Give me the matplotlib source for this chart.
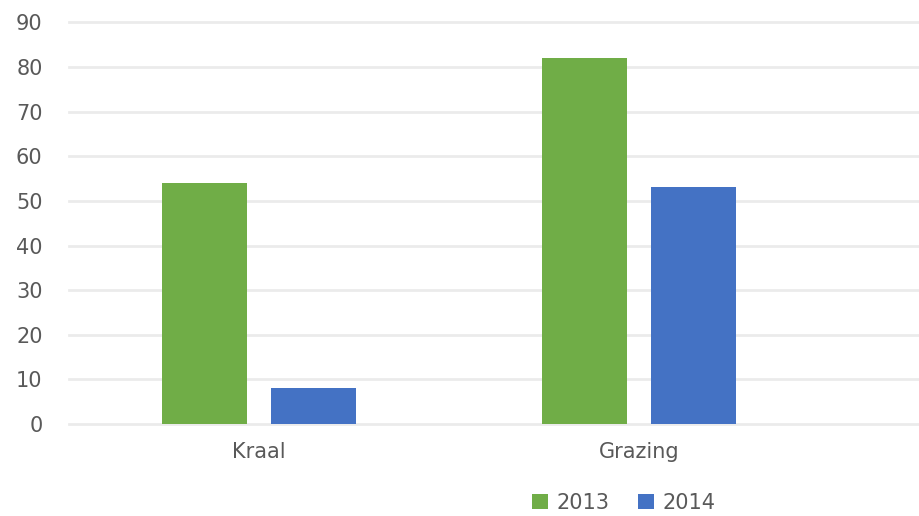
import numpy as np
import matplotlib.pyplot as plt

plt.rcParams["font.family"] = ["DejaVu Sans"]

# data
categories = ['Kraal', 'Grazing']
years = ['2013', '2014']
values_2013 = [54, 82]
values_2014 = [8, 53]
yticks = [0, 10, 20, 30, 40, 50, 60, 70, 80, 90]

green = '#70AD47'
blue = '#4472C4'
txt = '#595959'

fig = plt.figure(figsize=(9.2, 5.16), dpi=100)
ax = fig.add_axes([0.075, 0.178, 0.925, 0.779])

x = np.arange(len(categories))
w = 0.224
off = 0.143
ax.bar(x - off, values_2013, w, color=green, label=years[0], zorder=3)
ax.bar(x + off, values_2014, w, color=blue, label=years[1], zorder=3)

ax.set_xlim(-0.5, 1.74)
ax.set_ylim(0, 90)
ax.set_yticks(yticks)
ax.yaxis.grid(True, color='#EBEBEB', linewidth=2, zorder=0)
for gl in ax.get_ygridlines():
    gl.set_clip_on(False)
ax.set_xticks(x)
ax.set_xticklabels(categories)
for s in ax.spines.values():
    s.set_visible(False)
ax.tick_params(axis='both', length=0, colors=txt, labelsize=15)
ax.tick_params(axis='y', pad=19)
ax.tick_params(axis='x', pad=13)
for lbl in ax.get_yticklabels():
    lbl.set_horizontalalignment('right')

fig.legend(loc='center', bbox_to_anchor=(0.678, 0.025), ncol=2, frameon=False,
           fontsize=15, labelcolor=txt, handlelength=0.75, handleheight=0.75,
           handletextpad=0.4, columnspacing=1.4)

plt.savefig('out.png', dpi=100)
